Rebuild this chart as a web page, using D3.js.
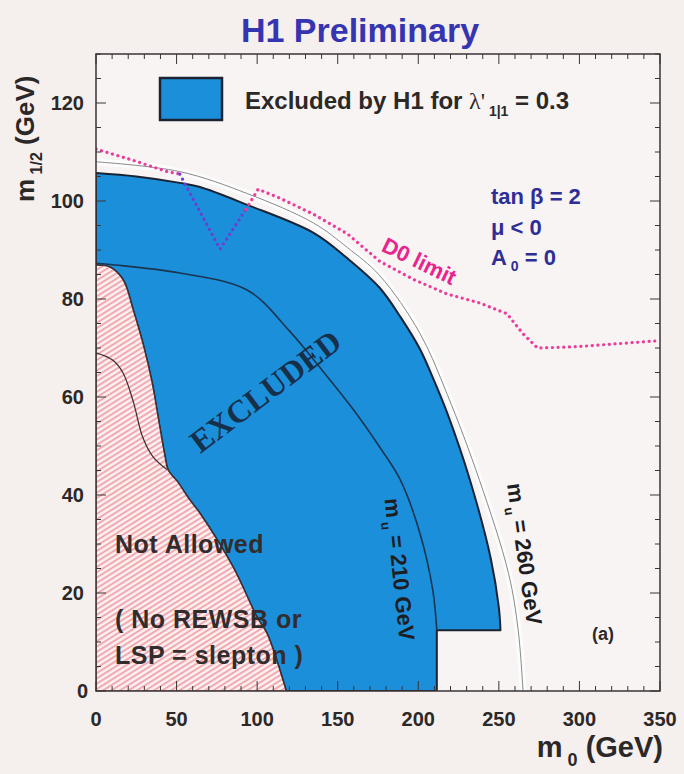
<!DOCTYPE html>
<html>
<head>
<meta charset="utf-8">
<script src="https://cdn.jsdelivr.net/npm/d3@7"></script>
<style>
  body { margin: 0; background: #f5efee; }
  svg text { font-weight: bold; }
</style>
</head>
<body>
<svg id="chart" width="684" height="774" font-family="Liberation Sans, Arial, sans-serif"></svg>
<script>
// values, (m0, m1/2) in GeV
const xTicks = [0, 50, 100, 150, 200, 250, 300, 350];
const yTicks = [0, 20, 40, 60, 80, 100, 120];

const excludedOuter = [[0, 105.7], [25, 105], [52, 103.7], [64, 102.9], [94, 99.2], [135, 93.5], [156, 88.3],
  [176, 82.3], [189, 76.3], [201, 69.8], [210, 63.2], [218, 56.7], [232, 43.1], [245, 27], [250, 17], [251, 12.4]];
const excludedStep = [[251, 12.4], [211.5, 12.4], [211.5, 0]];
const notAllowedEdge = [[0, 86.9], [8.7, 86.5], [16.8, 83.9], [23, 77.8], [29, 71], [34.8, 62.9], [38.5, 55.9],
  [42.8, 47.8], [44.7, 45.1], [51, 42.5], [57, 39.5], [65, 36], [85, 25.3], [100, 15], [106, 11.8], [118, 0]];
const notAllowedInner = [[0, 69], [10.5, 67.5], [16.8, 64.9], [23, 59.2], [29, 51.8], [35.4, 47.8], [44, 45.2]];
const mu210 = [[0, 87.3], [10.5, 87], [52, 85.3], [94, 81.8], [120, 73.5], [139, 66], [160, 57.3], [176, 49.8],
  [189, 43], [201, 32.2], [209, 20.6], [211.5, 12.4]];
const mu260 = [[0, 108], [52, 106], [94, 101.5], [135, 95.5], [156, 90.5], [176, 84.8], [201, 73], [218, 60.5],
  [238, 43], [256, 24], [262, 12.4], [265, 0]];
const d0Left = [[0, 110.6], [23, 108.3], [44, 106], [52, 105.5]];
const d0Notch = [[52, 105.5], [56.5, 102.7], [77, 90.2], [93, 98.3]];
const d0Right = [[93, 98.3], [100.6, 102.4], [114, 100.6], [135, 97.3], [156, 93.3], [176, 87.7], [197, 84],
  [218, 81], [238, 79.2], [255, 77], [265, 72.9], [274, 70], [300, 70.3], [350, 71.5]];

const svg = d3.select('#chart');
const x = d3.scaleLinear().domain([0, 350]).range([96, 660]);
const y = d3.scaleLinear().domain([0, 130]).range([691, 54]);

const BLUE = '#1c8fdb';
const EDGE = '#1b2333';
const INK = '#2b2828';
const SERIF = 'Liberation Serif, Times New Roman, serif';

const smooth = d3.curveCatmullRom.alpha(0.5);
function pathOf (pts, curve) {
  return d3.line().x(d => x(d[0])).y(d => y(d[1])).curve(curve || d3.curveLinear)(pts);
}

// hatch for the not-allowed region
const defs = svg.append('defs');
const pat = defs.append('pattern')
  .attr('id', 'hatch')
  .attr('patternUnits', 'userSpaceOnUse')
  .attr('width', 4.5).attr('height', 4.5)
  .attr('patternTransform', 'rotate(-32)');
pat.append('rect').attr('width', 4.5).attr('height', 4.5).attr('fill', '#fdf0f0');
pat.append('line').attr('x1', 0).attr('x2', 4.5).attr('y1', 1.1).attr('y2', 1.1)
  .attr('stroke', '#ef9ea6').attr('stroke-width', 1.7);
defs.append('clipPath').attr('id', 'frameClip')
  .append('rect').attr('x', x(0)).attr('y', y(130)).attr('width', x(350) - x(0)).attr('height', y(0) - y(130));

// plot background
svg.append('rect').attr('x', x(0)).attr('y', y(130))
  .attr('width', x(350) - x(0)).attr('height', y(0) - y(130))
  .attr('fill', '#f8f4f3');

const plot = svg.append('g').attr('clip-path', 'url(#frameClip)');

// excluded band
const edgeRev = notAllowedEdge.slice().reverse();
const blueD = pathOf(excludedOuter, smooth) +
  pathOf(excludedStep).replace('M', 'L') +
  'L' + x(118) + ',' + y(0) +
  pathOf(edgeRev, smooth).replace('M', 'L') + 'Z';
plot.append('path').attr('d', blueD).attr('fill', BLUE)
  .attr('stroke', EDGE).attr('stroke-width', 2).attr('stroke-linejoin', 'round');

// not allowed region
const pinkD = pathOf(notAllowedEdge, smooth) + 'L' + x(0) + ',' + y(0) + 'Z';
plot.append('path').attr('d', pinkD).attr('fill', 'url(#hatch)')
  .attr('stroke', '#4a3030').attr('stroke-width', 1.2);
plot.append('path').attr('d', pathOf(notAllowedInner, smooth)).attr('fill', 'none')
  .attr('stroke', '#3a2a2a').attr('stroke-width', 1.2);

// m_u contours
plot.append('path').attr('d', pathOf(mu210, smooth)).attr('fill', 'none')
  .attr('stroke', '#1a3550').attr('stroke-width', 1.6);
plot.append('path').attr('d', pathOf(mu260, smooth)).attr('fill', 'none')
  .attr('stroke', '#ffffff').attr('stroke-width', 7).attr('opacity', 0.75);
plot.append('path').attr('d', pathOf(mu260, smooth)).attr('fill', 'none')
  .attr('stroke', '#8a8a8a').attr('stroke-width', 1);

// D0 limit, dotted
[[d0Left, '#ec3d9c'], [d0Notch, '#6b3fcf'], [d0Right, '#ec3d9c']].forEach(function (s) {
  plot.append('path').attr('d', pathOf(s[0])).attr('fill', 'none')
    .attr('stroke', s[1]).attr('stroke-width', 3.2)
    .attr('stroke-linecap', 'round').attr('stroke-dasharray', '0.1,5.6');
});

// frame + ticks on all sides
const frame = svg.append('g');
frame.append('rect').attr('x', x(0)).attr('y', y(130))
  .attr('width', x(350) - x(0)).attr('height', y(0) - y(130))
  .attr('fill', 'none').attr('stroke', '#3a3434').attr('stroke-width', 1.5);
d3.range(0, 351, 10).forEach(function (v) {
  const len = v % 50 === 0 ? 10 : 5;
  frame.append('line').attr('x1', x(v)).attr('x2', x(v)).attr('y1', y(0)).attr('y2', y(0) - len)
    .attr('stroke', '#3a3434').attr('stroke-width', 1);
  frame.append('line').attr('x1', x(v)).attr('x2', x(v)).attr('y1', y(130)).attr('y2', y(130) + len)
    .attr('stroke', '#3a3434').attr('stroke-width', 1);
});
d3.range(0, 131, 5).forEach(function (v) {
  const len = v % 20 === 0 ? 10 : 5;
  frame.append('line').attr('y1', y(v)).attr('y2', y(v)).attr('x1', x(0)).attr('x2', x(0) + len)
    .attr('stroke', '#3a3434').attr('stroke-width', 1);
  frame.append('line').attr('y1', y(v)).attr('y2', y(v)).attr('x1', x(350)).attr('x2', x(350) - len)
    .attr('stroke', '#3a3434').attr('stroke-width', 1);
});

// tick labels
svg.append('g').selectAll('text').data(xTicks).join('text')
  .attr('x', d => x(d)).attr('y', 726).attr('text-anchor', 'middle')
  .attr('font-size', 20).attr('fill', INK).text(d => d);
svg.append('g').selectAll('text').data(yTicks).join('text')
  .attr('x', d => d === 0 ? 88 : 84).attr('y', d => y(d) + 7).attr('text-anchor', 'end')
  .attr('font-size', 20).attr('fill', INK).text(d => d);

// axis titles
const xt = svg.append('text').attr('x', 663).attr('y', 757).attr('text-anchor', 'end')
  .attr('font-size', 29).attr('fill', INK);
xt.append('tspan').text('m');
xt.append('tspan').attr('font-size', 18).attr('dy', 9).text(' 0');
xt.append('tspan').attr('dy', -9).text(' (GeV)');

const yt = svg.append('text').attr('transform', 'translate(34,202) rotate(-90)')
  .attr('font-size', 26).attr('fill', INK);
yt.append('tspan').text('m');
yt.append('tspan').attr('font-size', 16).attr('dy', 8).text(' 1/2');
yt.append('tspan').attr('dy', -8).text(' (GeV)');

// title
svg.append('text').attr('x', 360).attr('y', 42).attr('text-anchor', 'middle')
  .attr('font-size', 34).attr('fill', '#3535b2').text('H1 Preliminary');

// legend
svg.append('rect').attr('x', 160).attr('y', 78).attr('width', 62).attr('height', 42)
  .attr('fill', BLUE).attr('stroke', EDGE).attr('stroke-width', 2.5);
const lg = svg.append('text').attr('x', 245).attr('y', 109).attr('font-size', 24).attr('fill', INK);
lg.append('tspan').text('Excluded by H1 for ');
lg.append('tspan').attr('font-family', SERIF).attr('font-weight', 'normal').text('λ\'');
lg.append('tspan').attr('font-size', 14).attr('dy', 7).text(' 1|1');
lg.append('tspan').attr('dy', -7).text(' = 0.3');

// parameters
const par = svg.append('g').attr('fill', '#2e2e96').attr('font-size', 22);
par.append('text').attr('x', 491).attr('y', 204).text('tan β = 2');
par.append('text').attr('x', 491).attr('y', 235).text('μ < 0');
const a0 = par.append('text').attr('x', 491).attr('y', 265);
a0.append('tspan').text('A');
a0.append('tspan').attr('font-size', 14).attr('dy', 6).text(' 0');
a0.append('tspan').attr('dy', -6).text(' = 0');

// in-plot labels
svg.append('text').attr('transform', 'translate(416,268) rotate(26)').attr('text-anchor', 'middle')
  .attr('font-size', 22).attr('fill', '#e8248e').text('D0 limit');
svg.append('text').attr('transform', 'translate(272,400) rotate(-37)').attr('text-anchor', 'middle')
  .attr('font-family', SERIF).attr('font-size', 32).attr('fill', '#16304a')
  .text('EXCLUDED');

const m210 = svg.append('text').attr('transform', 'translate(392,570) rotate(84)').attr('text-anchor', 'middle')
  .attr('font-size', 22).attr('fill', '#1d1d22');
m210.append('tspan').text('m');
m210.append('tspan').attr('font-size', 13).attr('dy', 6).text(' u');
m210.append('tspan').attr('dy', -6).text(' = 210 GeV');

const m260 = svg.append('text').attr('transform', 'translate(517,555) rotate(82)').attr('text-anchor', 'middle')
  .attr('font-size', 22).attr('fill', '#1d1d22');
m260.append('tspan').text('m');
m260.append('tspan').attr('font-size', 13).attr('dy', 6).text(' u');
m260.append('tspan').attr('dy', -6).text(' = 260 GeV');

svg.append('text').attr('x', 603).attr('y', 640).attr('text-anchor', 'middle')
  .attr('font-size', 18).attr('fill', INK).text('(a)');

const na = svg.append('g').attr('font-size', 25).attr('fill', '#332c2c').attr('letter-spacing', 0.5);
na.append('text').attr('x', 115).attr('y', 553).text('Not Allowed');
na.append('text').attr('x', 115).attr('y', 628).text('( No REWSB or');
na.append('text').attr('x', 115).attr('y', 664).text('LSP = slepton )');
</script>
</body>
</html>
